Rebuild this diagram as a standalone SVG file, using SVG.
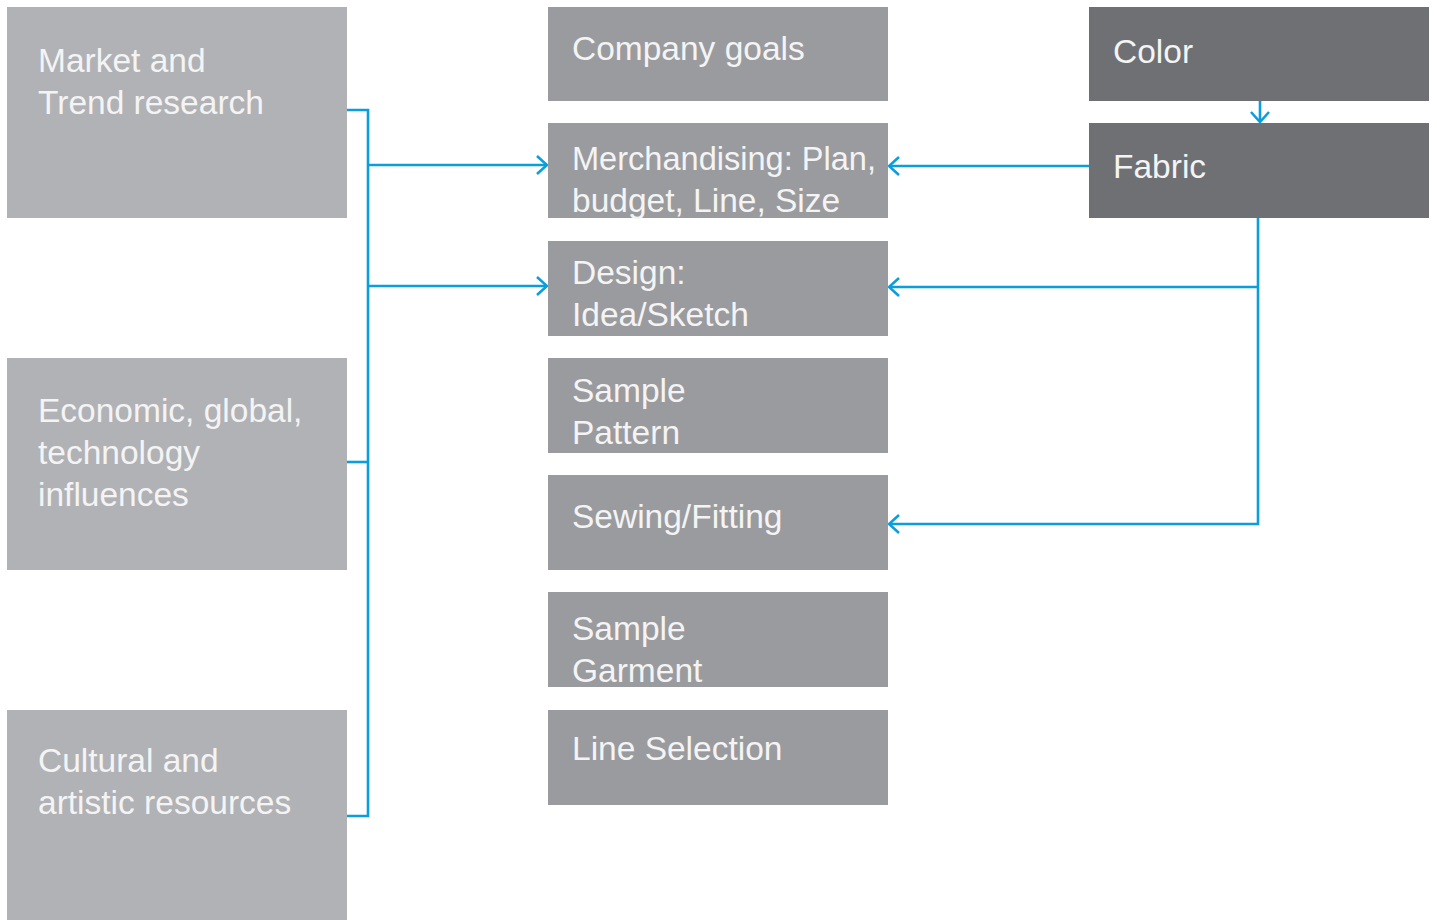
<svg xmlns="http://www.w3.org/2000/svg" width="1437" height="920" viewBox="0 0 1437 920">
<style>
.l{fill:#b1b2b5}.m{fill:#9a9b9e}.r{fill:#6e7073}
text{font-family:"Liberation Sans",Arial,sans-serif;font-size:33.5px;fill:#f4f4f4}
.c{fill:none;stroke:#0a9fdc;stroke-width:2.6}
</style>
<defs>
<marker id="a" viewBox="0 0 12 20" refX="11" refY="10" markerWidth="12" markerHeight="20" markerUnits="userSpaceOnUse" orient="auto">
<path d="M1,1 L11,10 L1,19" fill="none" stroke="#0a9fdc" stroke-width="2.6"/>
</marker>
</defs>
<rect width="1437" height="920" fill="#fff"/>
<g id="market"><rect class="l" x="7" y="7" width="340" height="211"/><text x="38" y="72">Market and</text><text x="38" y="114">Trend research</text></g>
<g id="economic"><rect class="l" x="7" y="358" width="340" height="212"/><text x="38" y="422">Economic, global,</text><text x="38" y="464">technology</text><text x="38" y="506">influences</text></g>
<g id="cultural"><rect class="l" x="7" y="710" width="340" height="210"/><text x="38" y="772">Cultural and</text><text x="38" y="814">artistic resources</text></g>
<g id="goals"><rect class="m" x="548" y="7" width="340" height="94"/><text x="572" y="60">Company goals</text></g>
<g id="merch"><rect class="m" x="548" y="123" width="340" height="95"/><text x="572" y="170" textLength="304" lengthAdjust="spacingAndGlyphs">Merchandising: Plan,</text><text x="572" y="212">budget, Line, Size</text></g>
<g id="design"><rect class="m" x="548" y="241" width="340" height="95"/><text x="572" y="284">Design:</text><text x="572" y="326">Idea/Sketch</text></g>
<g id="pattern"><rect class="m" x="548" y="358" width="340" height="95"/><text x="572" y="402">Sample</text><text x="572" y="444">Pattern</text></g>
<g id="sewing"><rect class="m" x="548" y="475" width="340" height="95"/><text x="572" y="528">Sewing/Fitting</text></g>
<g id="garment"><rect class="m" x="548" y="592" width="340" height="95"/><text x="572" y="640">Sample</text><text x="572" y="682">Garment</text></g>
<g id="lineSel"><rect class="m" x="548" y="710" width="340" height="95"/><text x="572" y="760">Line Selection</text></g>
<g id="color"><rect class="r" x="1089" y="7" width="340" height="94"/><text x="1113" y="63">Color</text></g>
<g id="fabric"><rect class="r" x="1089" y="123" width="340" height="95"/><text x="1113" y="178">Fabric</text></g>
<g id="connectors">
<path class="c" d="M347,110 H368 V816 H347"/>
<path class="c" d="M347,462 H368"/>
<path class="c" d="M368,165 H547" marker-end="url(#a)"/>
<path class="c" d="M368,286 H547" marker-end="url(#a)"/>
<path class="c" d="M1089,166 H889" marker-end="url(#a)"/>
<path class="c" d="M1260,101 V122" marker-end="url(#a)"/>
<path class="c" d="M1258,218 V524 H889" marker-end="url(#a)"/>
<path class="c" d="M1258,287 H889" marker-end="url(#a)"/>
</g>
</svg>
